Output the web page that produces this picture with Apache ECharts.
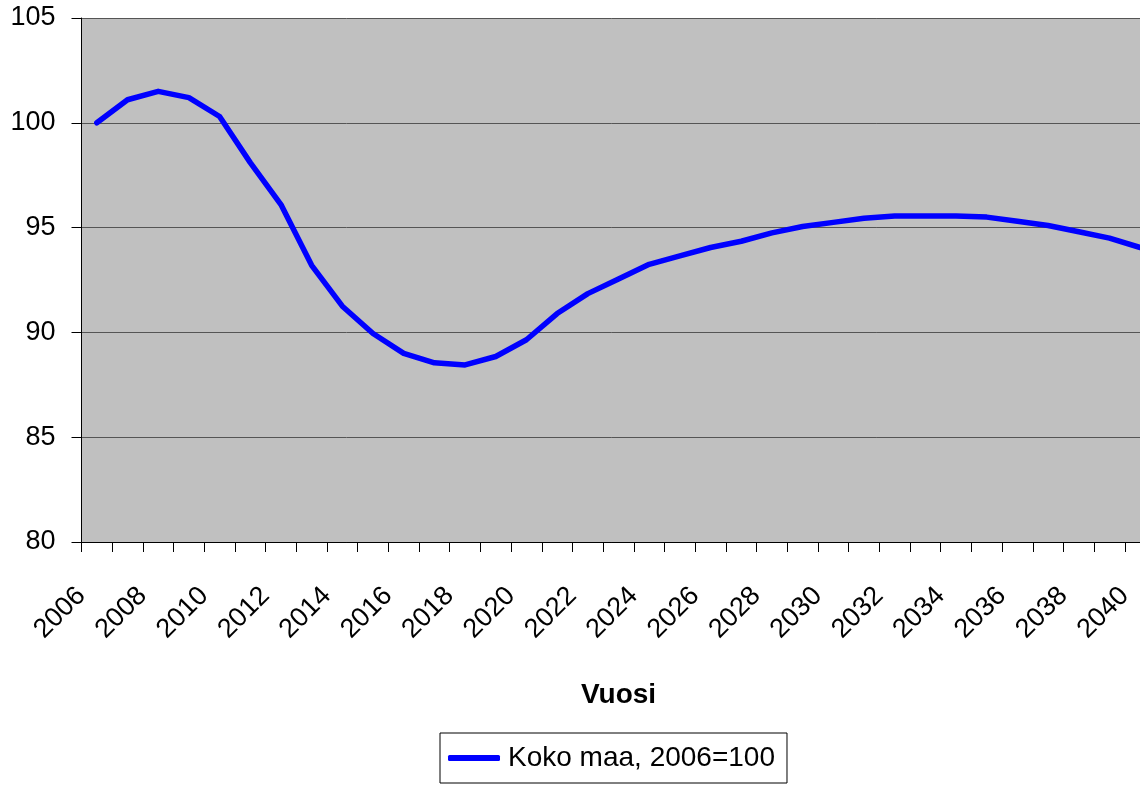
<!DOCTYPE html>
<html>
<head>
<meta charset="utf-8">
<script src="https://cdn.jsdelivr.net/npm/echarts@6/dist/echarts.min.js"></script>
<style>
html,body{margin:0;padding:0;background:#fff;}
#chart{width:1140px;height:785px;}
</style>
</head>
<body>
<div id="chart"></div>
<script>
const years = ['2006','2007','2008','2009','2010','2011','2012','2013','2014','2015','2016','2017','2018','2019','2020','2021','2022','2023','2024','2025','2026','2027','2028','2029','2030','2031','2032','2033','2034','2035','2036','2037','2038','2039','2040'];
const kokoMaa = [100, 101.1, 101.5, 101.2, 100.3, 98.1, 96.1, 93.2, 91.25, 89.95, 89.0, 88.55, 88.45, 88.85, 89.65, 90.9, 91.85, 92.55, 93.25, 93.65, 94.05, 94.35, 94.75, 95.05, 95.25, 95.45, 95.55, 95.55, 95.55, 95.5, 95.3, 95.1, 94.8, 94.5, 94.05];
const seriesName = 'Koko maa, 2006=100';
const xTitle = 'Vuosi';
const yTicks = {min: 80, max: 105, interval: 5};

const font = 'Liberation Sans, Arial, sans-serif';
const chart = echarts.init(document.getElementById('chart'), null, {renderer: 'canvas'});
chart.setOption({
  animation: false,
  textStyle: {fontFamily: font},
  grid: {left: 81.5, top: 18, width: 1074, height: 524, containLabel: false, outerBoundsMode: 'none', show: true, backgroundColor: '#C0C0C0', borderWidth: 0},
  xAxis: {
    type: 'category',
    data: years,
    boundaryGap: true,
    name: xTitle,
    nameLocation: 'middle',
    nameGap: 139,
    nameTextStyle: {fontFamily: font, fontSize: 28, fontWeight: 'bold', color: '#000'},
    axisLine: {show: true, lineStyle: {color: '#000', width: 1}},
    axisTick: {show: true, interval: 0, length: 10, lineStyle: {color: '#000', width: 1}},
    axisLabel: {interval: 1, rotate: 45, margin: 34, padding: [0, 22, 0, 0], fontSize: 27, color: '#000', fontFamily: font},
    splitLine: {show: false}
  },
  yAxis: {
    type: 'value',
    min: yTicks.min, max: yTicks.max, interval: yTicks.interval,
    axisLine: {show: true, lineStyle: {color: '#000', width: 1}},
    axisTick: {show: true, length: 10, lineStyle: {color: '#000', width: 1}},
    axisLabel: {margin: 26, fontSize: 27, color: '#000', fontFamily: font},
    splitLine: {show: true, lineStyle: {color: '#555', width: 1}}
  },
  legend: {
    data: [{name: seriesName, icon: 'roundRect'}],
    left: 440, top: 733,
    padding: [11, 12, 11, 8],
    borderColor: '#000', borderWidth: 1,
    itemWidth: 52, itemHeight: 6,
    textStyle: {fontSize: 28, color: '#000', fontFamily: font, padding: [0, 0, 0, 3]}
  },
  series: [{
    name: seriesName,
    type: 'line',
    data: kokoMaa,
    symbol: 'none',
    lineStyle: {color: '#0000FF', width: 5.5, cap: 'round', join: 'round'},
    itemStyle: {color: '#0000FF'}
  }]
});
</script>
</body>
</html>
